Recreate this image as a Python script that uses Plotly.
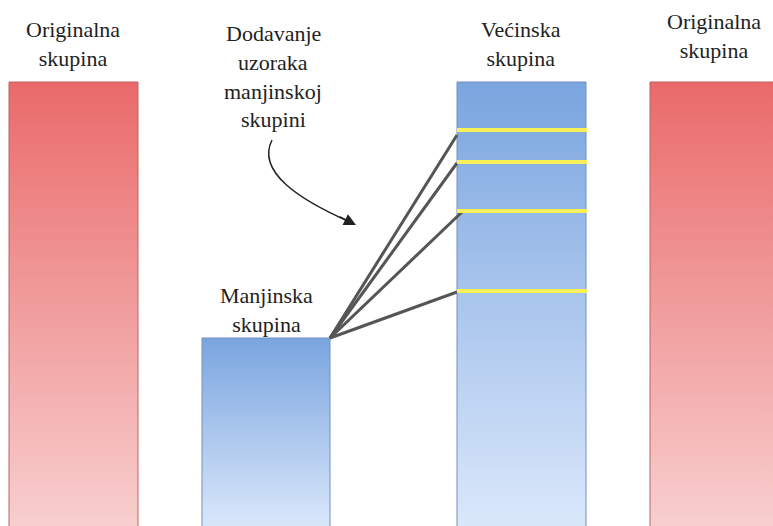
import plotly.graph_objects as go

# blocks of the diagram (pixel-like coordinates, y grows downward)
block_names = ["Originalna skupina", "Manjinska skupina", "Većinska skupina", "Originalna skupina"]
block_left = [9, 202, 457, 650]
block_right = [138, 330, 586, 790]
block_top = [82, 338, 82, 82]
block_bottom = [530, 530, 530, 530]
block_kind = ["red", "blue", "blue", "red"]

# labels above the blocks
label_x = [73, 266, 521, 714]
label_y = [44, 310, 44, 36]

# added minority samples inside the majority block
sample_y = [130, 162, 211, 291]
sample_link_end_x = [457, 457, 462, 457]
sample_link_end_y = [135, 163, 212, 292]
link_origin = (330, 338)

note_lines = ["Dodavanje", "uzoraka", "manjinskoj", "skupini"]
note_line_y = [33, 62, 91, 119]
note_x = 273

GRADIENT = {
    "red": ([[0, "#f8cfcf"], [1, "#ea6a6a"]], "#b86565"),
    "blue": ([[0, "#dbe8fb"], [1, "#7aa5df"]], "#7590bd"),
}
FONT = "Liberation Serif, Times New Roman, serif"

fig = go.Figure()

for x0, x1, y0, y1, kind in zip(block_left, block_right, block_top, block_bottom, block_kind):
    scale, edge = GRADIENT[kind]
    fig.add_trace(
        go.Scatter(
            x=[x0, x1, x1, x0, x0],
            y=[y1, y1, y0, y0, y1],
            mode="lines",
            fill="toself",
            fillgradient=dict(type="vertical", colorscale=scale),
            line=dict(color=edge, width=1),
            hoverinfo="skip",
        )
    )

# grey links from the minority block to each new sample
for ex, ey in zip(sample_link_end_x, sample_link_end_y):
    fig.add_trace(
        go.Scatter(
            x=[link_origin[0], ex],
            y=[link_origin[1], ey],
            mode="lines",
            line=dict(color="#555555", width=3),
            hoverinfo="skip",
        )
    )

# yellow sample lines
for sy in sample_y:
    fig.add_trace(
        go.Scatter(
            x=[block_left[2], block_right[2] + 1],
            y=[sy, sy],
            mode="lines",
            line=dict(color="#f7f057", width=4),
            hoverinfo="skip",
        )
    )

# labels
for name, lx, ly in zip(block_names, label_x, label_y):
    fig.add_annotation(
        x=lx, y=ly, text=name.replace(" ", "<br>"), showarrow=False,
        font=dict(family=FONT, size=22, color="#222222"), align="center",
    )

for line, ly in zip(note_lines, note_line_y):
    fig.add_annotation(
        x=note_x, y=ly, text=line, showarrow=False,
        font=dict(family=FONT, size=22, color="#222222"),
    )

# curved arrow
fig.add_shape(
    type="path",
    path="M 272 140 C 256 172, 300 200, 350 222",
    line=dict(color="#222222", width=1.5),
)
fig.add_annotation(
    x=356, y=225, ax=-18, ay=-9, text="", showarrow=True,
    arrowhead=2, arrowsize=1.6, arrowwidth=1.5, arrowcolor="#222222",
)

fig.update_layout(
    width=773,
    height=526,
    margin=dict(l=0, r=0, t=0, b=0),
    plot_bgcolor="white",
    paper_bgcolor="white",
    showlegend=False,
    xaxis=dict(range=[0, 773], visible=False, fixedrange=True),
    yaxis=dict(range=[526, 0], visible=False, fixedrange=True),
)

fig.write_html(
    "out.html",
    config={"displayModeBar": False},
    post_script="document.body.style.margin='0';",
)
